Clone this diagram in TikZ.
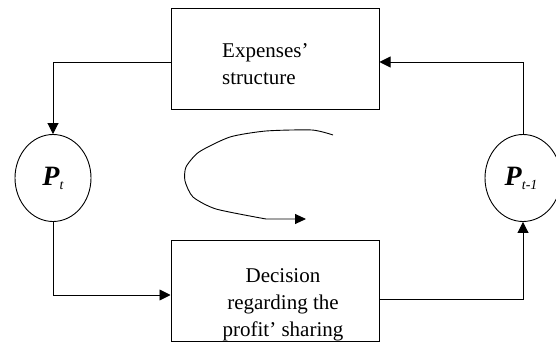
\documentclass[tikz,border=0pt]{standalone}
\usepackage{fontspec}
\setmainfont{Liberation Serif}
\usetikzlibrary{arrows.meta,shapes.geometric}
\begin{document}
\begin{tikzpicture}[x=1pt,y=1pt,
  boxst/.style={draw,line width=1pt,minimum width=208pt,minimum height=101pt,inner sep=0pt},
  ellst/.style={draw,ellipse,line width=0.9pt,minimum width=76pt,minimum height=87pt,inner sep=0pt},
  txt/.style={font=\fontsize{21}{27}\selectfont,inner sep=0pt},
  conn/.style={line width=0.9pt},
  arr/.style={conn,-{Triangle[length=11pt,width=11pt]}}]
\useasboundingbox (0,0) rectangle (556,345);
\node[boxst] (top) at (275,286) {};
\node[boxst] (bot) at (275,54) {};
\node[txt,anchor=west,align=left] (toptxt) at (222,281) {Expenses’\\structure};
\node[txt,align=center] (bottxt) at (283,40) {Decision\\regarding the\\profit’ sharing};
\node[ellst] (pt) at (53,167) {};
\node[ellst] (pt1) at (523,167) {};
\node (ptl) at (53,167) {\fontsize{28}{28}\selectfont\textbf{\textit{P}}\raisebox{-4pt}{\fontsize{14}{14}\selectfont\textit{t}}};
\node (pt1l) at (521,167) {\fontsize{28}{28}\selectfont\textbf{\textit{P}}\raisebox{-4pt}{\fontsize{14}{14}\selectfont\textit{t-1}}};
\draw[arr] ([yshift=-3pt]top.west) -| (pt.north);
\draw[arr] (pt.south) |- ([yshift=-4pt]bot.west);
\draw[arr] ([yshift=-8pt]bot.east) -| (pt1.south);
\draw[arr] (pt1.north) |- ([yshift=-3pt]top.east);
\coordinate (cs) at (333,210);
\coordinate (ce) at (306,126);
\draw[conn,-{Triangle[length=11pt,width=10pt]}] plot[smooth,tension=0.4] coordinates {(cs) (312,215) (266,214) (230,208) (199,193) (186,178) (185,164) (193,148) (216,136) (266,126)} -- (ce);
\end{tikzpicture}
\end{document}
